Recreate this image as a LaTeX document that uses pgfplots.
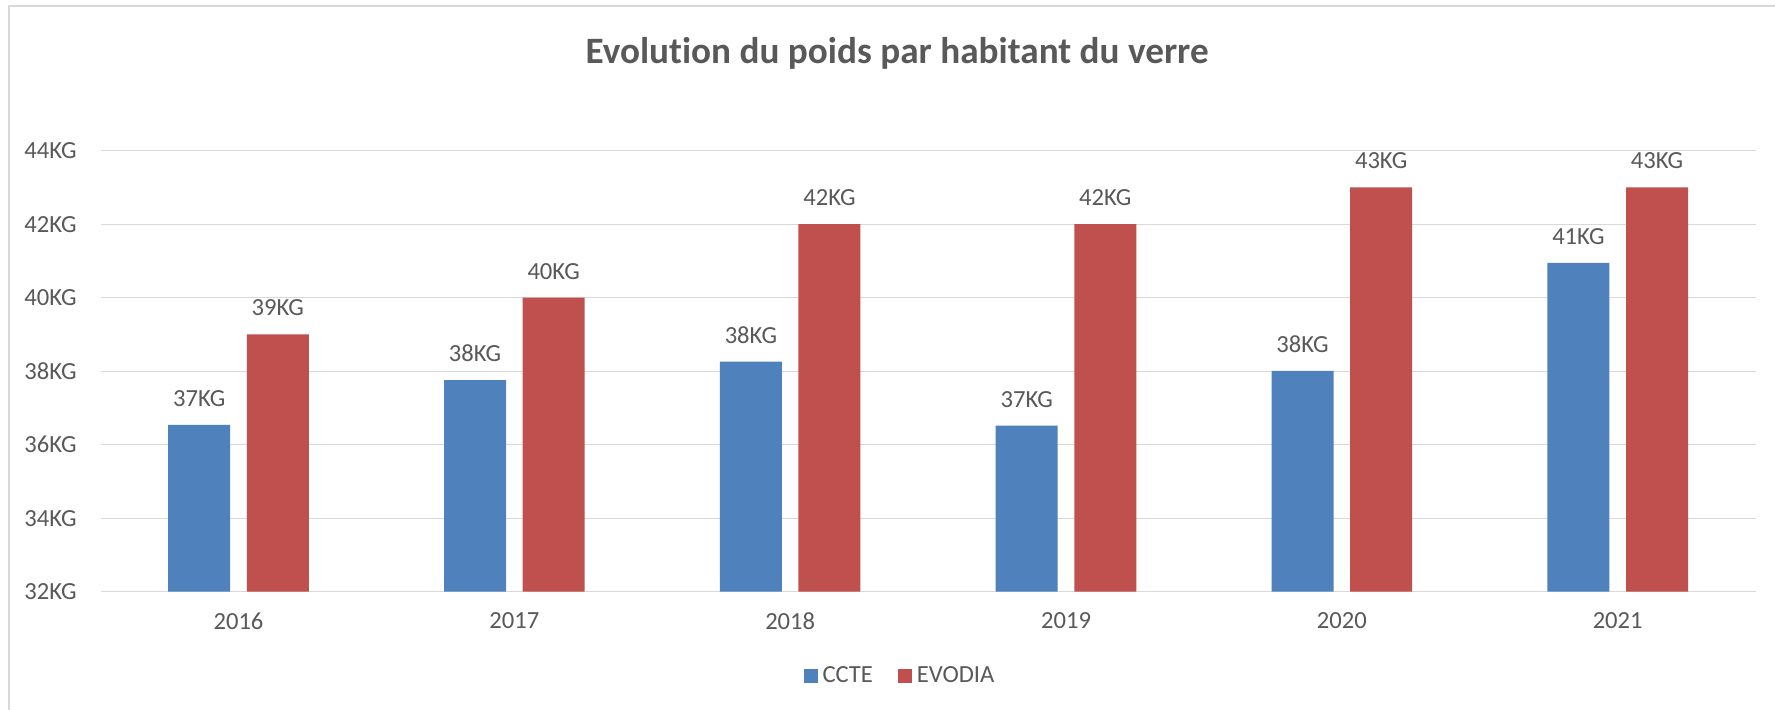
\documentclass[border=0pt]{standalone}
\usepackage{fontspec}
\setmainfont{Carlito}[Ligatures=NoCommon]
\usepackage{pgfplots}
\pgfplotsset{compat=1.18}
\definecolor{ccte}{HTML}{4F81BD}
\definecolor{evodia}{HTML}{C0504D}
\definecolor{txt}{HTML}{595959}
\definecolor{gridc}{HTML}{D9D9D9}
\begin{document}
\begin{tikzpicture}
\useasboundingbox (0,0) rectangle (887.5pt,354.5pt);
\fill[white] (0,0) rectangle (887.5pt,354.5pt);
\draw[gridc, line width=1pt] (4.5pt,-5pt) -- (4.5pt,351.5pt) -- (900pt,351.5pt);
\node[anchor=base, font=\bfseries\fontsize{18.6}{22}\selectfont, text=txt] at (448.5pt,323pt) {Evolution du poids par habitant du verre};
\begin{axis}[
  at={(50.3pt,58.65pt)}, anchor=south west,
  scale only axis, width=827.5pt, height=220.5pt,
  xmin=-0.5, xmax=5.5, ymin=32, ymax=44,
  ytick={32,34,...,44},
  xtick={0,...,5},
  xticklabels={2016,2017,2018,2019,2020,2021},
  /pgf/number format/assume math mode=true,
  yticklabel={\pgfmathprintnumber{\tick}KG},
  ymajorgrids, major grid style={gridc, line width=0.7pt},
  axis line style={draw=none}, tick style={draw=none}, major tick length=0pt,
  tick label style={font=\fontsize{12.3}{14}\selectfont, text=txt},
  yticklabel style={anchor=east, inner sep=0pt, xshift=-11.8pt},
  xticklabel style={anchor=north, inner sep=0pt, yshift=-10.3pt},
  ybar, bar width=31pt,
  nodes near coords={\pgfmathprintnumber[fixed,precision=0]{\pgfplotspointmeta}KG},
  every node near coord/.append style={font=\fontsize{12.3}{14}\selectfont, text=txt, inner sep=0pt, anchor=south, yshift=9pt},
  legend style={at={(0.4839,-0.1912)}, anchor=center, draw=none, fill=none,
    font=\fontsize{12.3}{14}\selectfont, text=txt,
    /tikz/every even column/.append style={column sep=10pt},
    nodes={inner sep=2.5pt}},
  legend columns=-1,
  legend image code/.code={\fill[#1] (0pt,-3.5pt) rectangle (7pt,3.5pt);},
]
\addplot[ybar, bar shift=-19.65pt, fill=ccte, draw=none] coordinates {(0,36.54) (1,37.76) (2,38.26) (3,36.52) (4,38.01) (5,40.95)};
\addplot[ybar, bar shift=19.65pt, fill=evodia, draw=none] coordinates {(0,39) (1,40) (2,42) (3,42) (4,43) (5,43)};
\legend{CCTE,EVODIA}
\end{axis}
\end{tikzpicture}
\end{document}
